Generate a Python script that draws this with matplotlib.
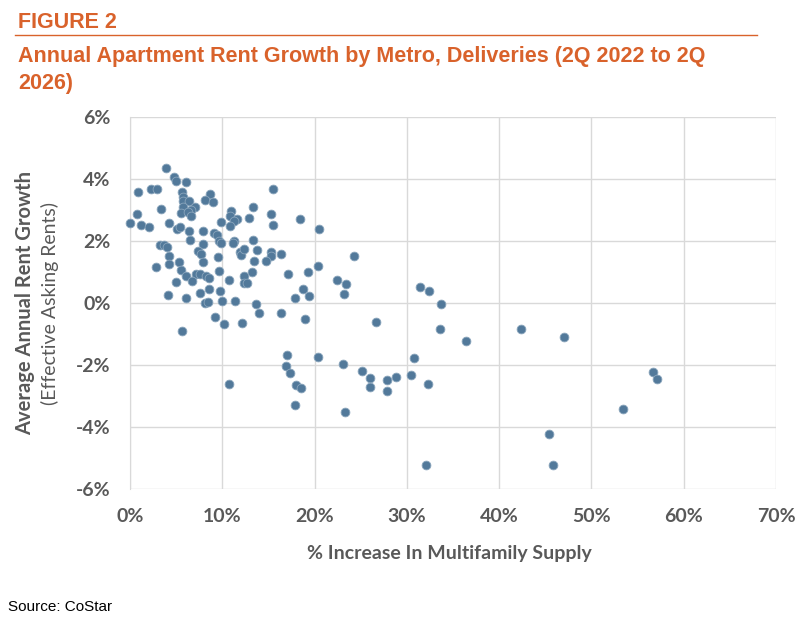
import matplotlib
matplotlib.use("Agg")
import matplotlib.pyplot as plt
from matplotlib.ticker import FuncFormatter
from matplotlib.lines import Line2D

# % increase in multifamily supply (x) and average annual rent growth (y), in percent
supply_growth = [
    3.87, 4.8, 4.95, 6.07, 0.87, 2.28, 2.96, 5.63, 5.78, 8.67, 8.16, 8.96, 5.78, 6.39,
    3.36, 5.78, 7.0, 6.61, 5.53, 6.25, 6.64, 0.76, 0.04, 1.16, 2.02, 4.19, 5.12, 5.45,
    6.36, 7.95, 9.1, 9.39, 9.89, 10.9, 10.87, 11.63, 11.3, 10.83, 12.93, 6.46, 7.9,
    9.64, 9.86, 11.23, 11.12, 3.25, 3.68, 4.0, 4.19, 7.33, 7.73, 9.57, 11.9, 12.0,
    12.4, 2.85, 4.19, 5.34, 7.95, 5.53, 6.1, 7.11, 7.62, 8.19, 8.59, 9.68, 12.32,
    12.35, 12.68, 13.22, 5.0, 6.68, 10.73, 4.08, 6.07, 7.62, 8.52, 9.79, 8.16, 8.41,
    9.93, 11.34, 9.17, 10.22, 12.1, 5.63, 15.49, 13.33, 15.31, 15.53, 18.42, 20.48,
    13.33, 13.72, 15.28, 16.32, 15.31, 24.27, 13.43, 14.7, 17.08, 19.25, 20.4, 22.39,
    23.43, 23.2, 18.74, 17.91, 19.39, 13.61, 13.98, 16.36, 18.96, 16.98, 20.37, 23.1,
    25.1, 10.73, 16.93, 17.37, 18.0, 18.53, 17.91, 23.29, 31.42, 32.36, 33.72, 26.65,
    33.59, 36.4, 30.8, 26.0, 26.0, 27.8, 27.8, 28.85, 30.48, 32.25, 32.03, 42.33,
    47.02, 56.66, 57.13, 53.45, 45.43, 45.86,
]
rent_growth = [
    4.37, 4.05, 3.95, 3.89, 3.58, 3.67, 3.67, 3.58, 3.43, 3.51, 3.33, 3.27, 3.30, 3.30,
    3.02, 3.09, 3.09, 3.0, 2.89, 2.94, 2.82, 2.87, 2.59, 2.53, 2.46, 2.57, 2.40, 2.45,
    2.33, 2.31, 2.26, 2.19, 2.60, 2.96, 2.81, 2.71, 2.63, 2.48, 2.74, 2.03, 1.90,
    2.01, 1.94, 2.01, 1.94, 1.87, 1.88, 1.81, 1.53, 1.67, 1.57, 1.49, 1.65, 1.54,
    1.75, 1.17, 1.26, 1.31, 1.31, 1.07, 0.86, 0.94, 0.93, 0.88, 0.82, 1.04, 0.86,
    0.63, 0.63, 1.0, 0.67, 0.70, 0.73, 0.27, 0.17, 0.32, 0.45, 0.39, -0.01, 0.02,
    0.08, 0.08, -0.44, -0.69, -0.66, -0.90, 3.67, 3.11, 2.87, 2.53, 2.71, 2.38,
    2.03, 1.72, 1.64, 1.57, 1.52, 1.51, 1.34, 1.34, 0.95, 1.0, 1.19, 0.75,
    0.60, 0.30, 0.45, 0.16, 0.24, -0.04, -0.32, -0.32, -0.52, -1.69, -1.74, -1.97,
    -2.2, -2.61, -2.02, -2.25, -2.65, -2.74, -3.30, -3.52, 0.52, 0.39, -0.04, -0.60,
    -0.85, -1.22, -1.77, -2.42, -2.71, -2.48, -2.83, -2.40, -2.31, -2.61, -5.22, -0.83,
    -1.10, -2.24, -2.46, -3.42, -4.23, -5.21,
]

x_ticks = [0, 10, 20, 30, 40, 50, 60, 70]
y_ticks = [-6, -4, -2, 0, 2, 4, 6]

ORANGE = "#D9622B"
GRAY = "#595959"
DOT = "#52799A"

plt.rcParams["font.family"] = ["Lato", "DejaVu Sans"]

fig = plt.figure(figsize=(8.1, 6.2), dpi=100)
ax = fig.add_axes([130 / 810, 1 - 489 / 620, 646 / 810, 372 / 620])

ax.scatter(supply_growth, rent_growth, s=40, color=DOT, edgecolors="#8AA5BC",
           linewidths=0.6, zorder=3, clip_on=False)

ax.set_xlim(0, 70)
ax.set_ylim(-6, 6)
ax.set_xticks(x_ticks)
ax.set_yticks(y_ticks)
ax.xaxis.set_major_formatter(FuncFormatter(lambda v, p: f"{v:.0f}%"))
ax.yaxis.set_major_formatter(FuncFormatter(lambda v, p: f"{v:.0f}%"))
ax.grid(True, color="#D9D9D9", linewidth=1.0, zorder=0)
ax.set_axisbelow(True)
for s in ax.spines.values():
    s.set_visible(False)
ax.spines["left"].set_visible(True)
ax.spines["left"].set_color("#D9D9D9")
ax.tick_params(axis="y", length=0, pad=14, labelsize=14, labelcolor=GRAY)
ax.tick_params(axis="x", length=0, pad=14, labelsize=14, labelcolor=GRAY)
for lab in ax.get_xticklabels() + ax.get_yticklabels():
    lab.set_fontweight("bold")

fig.text(449 / 810, 1 - 553 / 620, "% Increase In Multifamily Supply", ha="center",
         va="center", fontsize=14, fontweight="bold", color=GRAY)
fig.text(25 / 810, 1 - 303 / 620, "Average Annual Rent Growth", rotation=90, ha="center",
         va="center", fontsize=14.5, fontweight="bold", color=GRAY)
fig.text(50 / 810, 1 - 303 / 620, "(Effective Asking Rents)", rotation=90, ha="center",
         va="center", fontsize=14, color=GRAY)

fig.text(18 / 810, 1 - 23 / 620, "FIGURE 2", ha="left", va="center", fontsize=15.5,
         fontweight="bold", color=ORANGE, family="Liberation Sans")
fig.add_artist(Line2D([15 / 810, 757 / 810], [1 - 35 / 620, 1 - 35 / 620],
                      color=ORANGE, linewidth=1.0))
fig.text(18 / 810, 1 - 62 / 620,
         "Annual Apartment Rent Growth by Metro, Deliveries (2Q 2022 to 2Q",
         ha="left", va="baseline", fontsize=15.5, fontweight="bold", color=ORANGE,
         family="Liberation Sans")
fig.text(18 / 810, 1 - 89 / 620, "2026)",
         ha="left", va="baseline", fontsize=15.5, fontweight="bold", color=ORANGE,
         family="Liberation Sans")
fig.text(8 / 810, 1 - 607 / 620, "Source: CoStar", ha="left", va="center", fontsize=11,
         color="black", family="Liberation Sans")

fig.savefig("out.png", dpi=100)
